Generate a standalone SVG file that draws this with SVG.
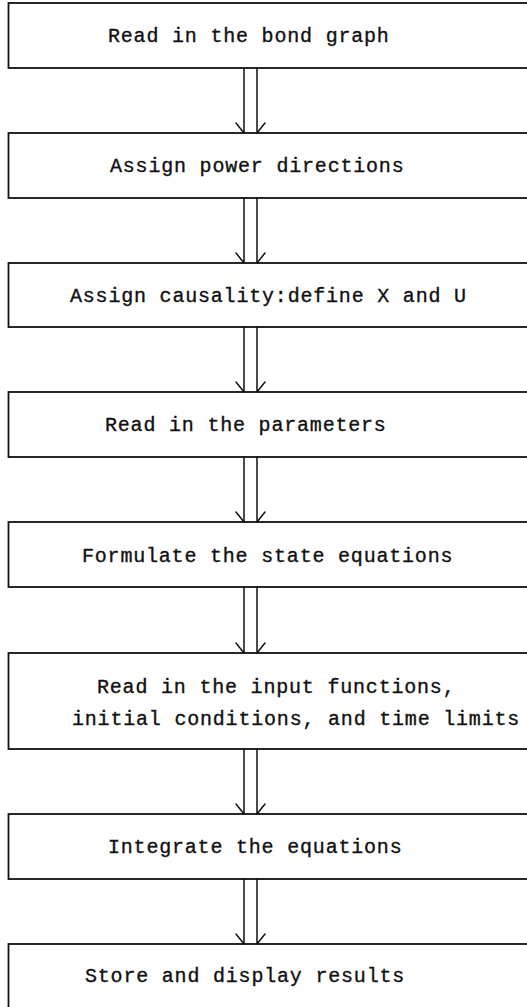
<svg xmlns="http://www.w3.org/2000/svg" width="527" height="1007" viewBox="0 0 527 1007">
  <style>
    .box { fill: #fff; stroke: #111; stroke-width: 1.8; }
    .lbl { font-family: "Liberation Mono", "DejaVu Sans Mono", monospace; font-size: 20px; letter-spacing: 0.8px; fill: #111; stroke: #111; stroke-width: 0.35; }
    .bond { fill: none; stroke: #111; stroke-width: 1.5; stroke-linecap: round; }
  </style>
  <rect width="527" height="1007" fill="#fff"/>

  <!-- process steps; boxes run past the right edge -->
  <g id="step1">
    <rect class="box" x="8.5" y="3" width="540" height="65"/>
    <text class="lbl" x="108" y="42">Read in the bond graph</text>
  </g>
  <g id="step2">
    <rect class="box" x="8.5" y="133" width="540" height="65"/>
    <text class="lbl" x="110" y="172">Assign power directions</text>
  </g>
  <g id="step3">
    <rect class="box" x="8.5" y="263" width="540" height="64"/>
    <text class="lbl" x="70" y="302">Assign causality:define X and U</text>
  </g>
  <g id="step4">
    <rect class="box" x="8.5" y="392" width="540" height="65"/>
    <text class="lbl" x="105" y="431">Read in the parameters</text>
  </g>
  <g id="step5">
    <rect class="box" x="8.5" y="522" width="540" height="65"/>
    <text class="lbl" x="82" y="562">Formulate the state equations</text>
  </g>
  <g id="step6">
    <rect class="box" x="8.5" y="653" width="540" height="96"/>
    <text class="lbl" x="97" y="693">Read in the input functions,</text>
    <text class="lbl" x="72" y="725">initial conditions, and time limits</text>
  </g>
  <g id="step7">
    <rect class="box" x="8.5" y="814" width="540" height="65"/>
    <text class="lbl" x="108" y="853">Integrate the equations</text>
  </g>
  <g id="step8">
    <rect class="box" x="8.5" y="944" width="540" height="80"/>
    <text class="lbl" x="85" y="982">Store and display results</text>
  </g>

  <!-- double-line bond arrows between steps -->
  <g id="connectors" class="bond">
    <path d="M244,68 V133 M257,68 V133 M236,123 L244,133 M265,123 L257,133"/>
    <path d="M244,198 V263 M257,198 V263 M236,253 L244,263 M265,253 L257,263"/>
    <path d="M244,327 V392 M257,327 V392 M236,382 L244,392 M265,382 L257,392"/>
    <path d="M244,457 V522 M257,457 V522 M236,512 L244,522 M265,512 L257,522"/>
    <path d="M244,587 V653 M257,587 V653 M236,643 L244,653 M265,643 L257,653"/>
    <path d="M244,749 V814 M257,749 V814 M236,804 L244,814 M265,804 L257,814"/>
    <path d="M244,879 V944 M257,879 V944 M236,934 L244,944 M265,934 L257,944"/>
  </g>
</svg>
